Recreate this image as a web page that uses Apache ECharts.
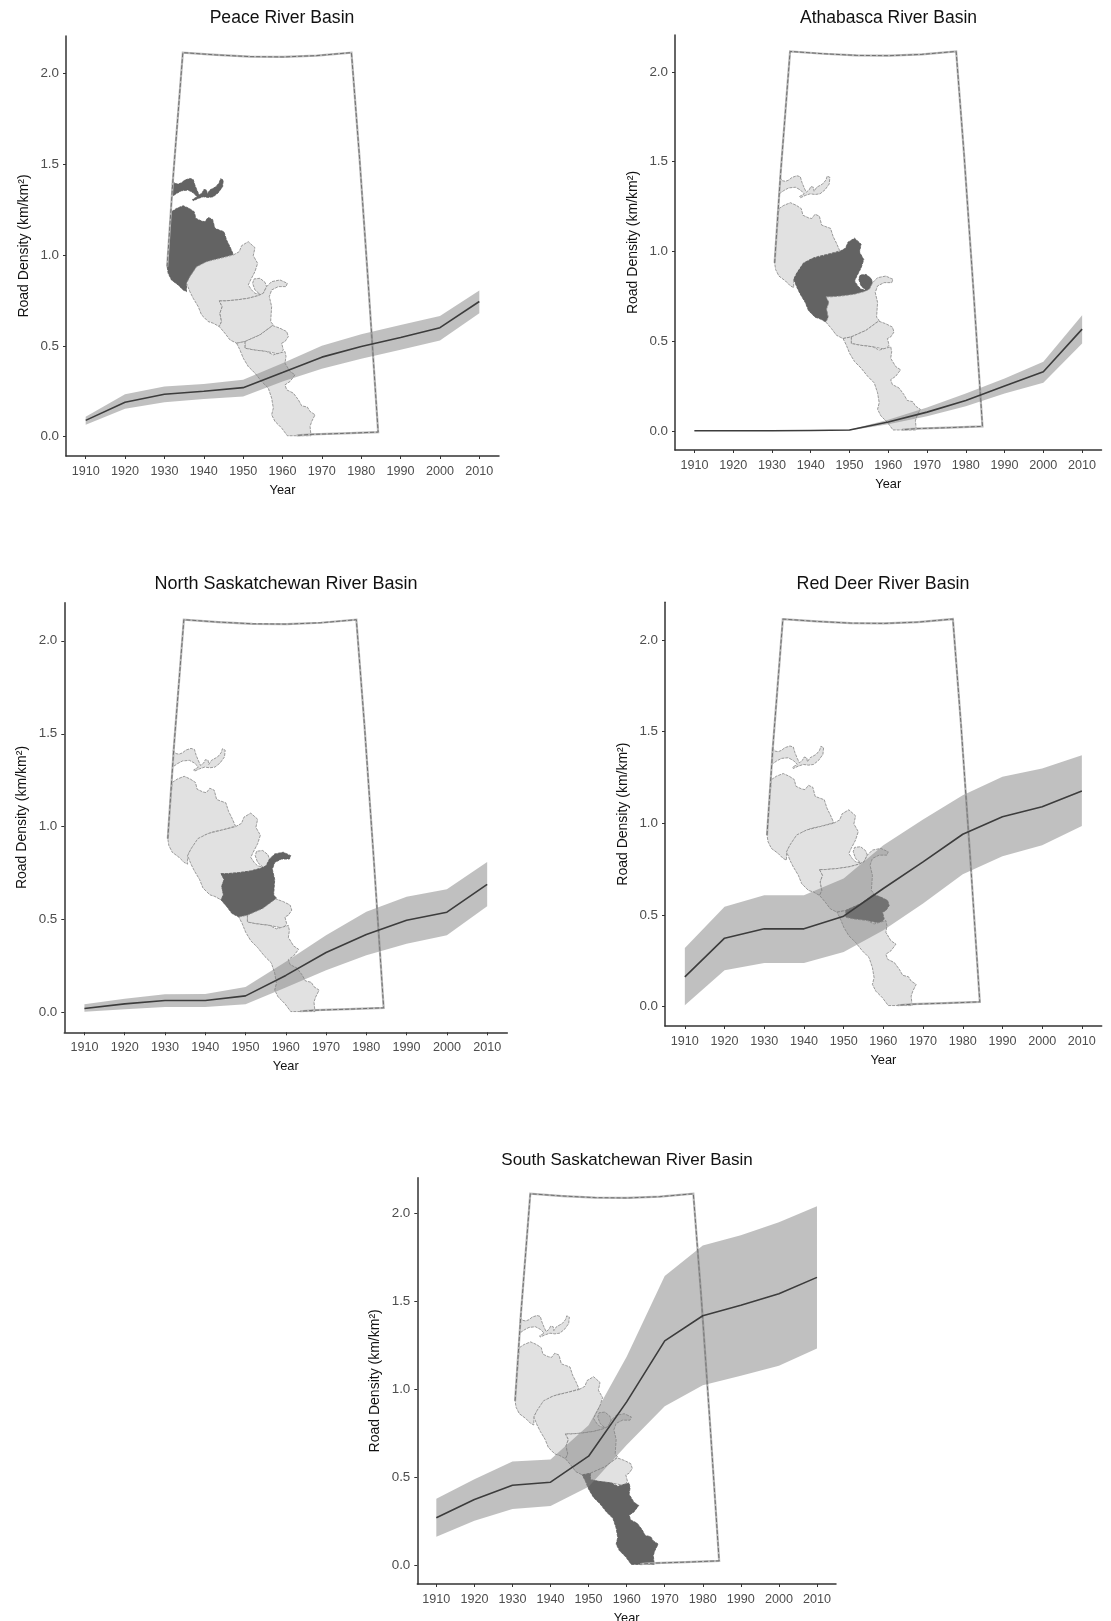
<!DOCTYPE html>
<html>
<head>
<meta charset="utf-8">
<style>html,body{margin:0;padding:0;background:#fff}#c{width:1111px;height:1621px}</style>
<script src="https://cdn.jsdelivr.net/npm/echarts@6/dist/echarts.min.js"></script>
</head>
<body>
<div id="c"></div>
<script>
var years = [1910,1920,1930,1940,1950,1960,1970,1980,1990,2000,2010];
var yTicks = [0,0.5,1,1.5,2];

var peaceMean = [.09,.19,.234,.25,.27,.353,.438,.496,.546,.60,.744];
var peaceHigh = [.11,.234,.277,.29,.313,.405,.50,.564,.615,.665,.804];
var peaceLow  = [.066,.154,.19,.207,.222,.304,.374,.429,.478,.53,.68];

var athaMean = [.001,.001,.001,.003,.005,.05,.105,.17,.25,.33,.567];
var athaHigh = [.002,.002,.002,.004,.007,.063,.13,.208,.292,.385,.645];
var athaLow  = [0,0,0,.002,.003,.037,.082,.138,.208,.268,.487];

var northMean = [.022,.047,.065,.065,.09,.2,.323,.42,.497,.54,.69];
var northHigh = [.045,.074,.099,.10,.138,.273,.416,.542,.623,.664,.81];
var northLow  = [.005,.018,.03,.03,.045,.135,.228,.309,.371,.416,.572];

var redMean = [.162,.373,.424,.424,.493,.644,.789,.94,1.035,1.09,1.176];
var redHigh = [.32,.544,.607,.607,.698,.88,1.02,1.153,1.253,1.298,1.371];
var redLow  = [.007,.198,.238,.238,.298,.416,.562,.722,.82,.88,.985];

var southMean = [.271,.375,.456,.473,.621,.93,1.277,1.42,1.479,1.545,1.638];
var southHigh = [.379,.49,.591,.602,.797,1.186,1.646,1.82,1.877,1.951,2.042];
var southLow  = [.163,.254,.32,.337,.447,.684,.905,1.025,1.078,1.136,1.233];

// Inset map outlines, in map units (projected to year / density below)
var albertaBorder = [[502,800],[510,680],[520,530],[549,157],[650,164],[750,169],[850,170],[950,166],[1054,157],[1078,470],[1105,860],[1134,1297],[1030,1301],[933,1304],[890,1307]];
var slaveArea = [[518,540],[525,550],[535,552],[545,548],[555,540],[570,535],[580,538],[585,555],[592,572],[598,585],[607,578],[612,568],[620,570],[622,582],[630,570],[648,560],[658,548],[662,536],[670,540],[668,560],[655,578],[640,590],[625,592],[610,590],[595,595],[580,602],[578,598],[592,590],[580,578],[565,570],[545,572],[530,580],[516,590]];
var peaceArea = [[515,635],[530,625],[550,617],[568,625],[583,635],[588,655],[605,663],[615,665],[625,652],[638,658],[645,685],[658,690],[672,695],[680,720],[690,740],[700,763],[685,768],[660,775],[635,780],[610,790],[590,805],[575,825],[565,840],[560,855],[560,875],[550,870],[535,855],[515,840],[505,820],[502,800],[508,720]];
var athabascaArea = [[700,765],[718,755],[725,737],[745,725],[765,743],[760,767],[773,790],[765,815],[752,840],[745,855],[755,870],[765,880],[780,883],[765,870],[758,850],[762,837],[780,835],[795,847],[800,860],[790,880],[775,887],[745,895],[710,900],[675,903],[658,903],[667,920],[660,940],[665,965],[658,980],[640,970],[625,965],[605,945],[595,920],[580,895],[570,875],[560,850],[570,830],[590,800],[620,785],[660,775]];
var northArea = [[658,903],[675,903],[710,900],[745,895],[775,887],[790,880],[800,860],[815,845],[840,840],[862,850],[858,860],[835,860],[815,870],[808,890],[815,920],[812,965],[820,975],[780,1005],[735,1025],[710,1030],[690,1020],[675,1000],[658,980],[665,965],[660,940],[667,920]];
var redDeerArea = [[735,1025],[780,1005],[818,977],[840,985],[860,995],[865,1010],[855,1025],[845,1030],[850,1050],[840,1063],[800,1055],[760,1050],[735,1045]];
var southArea = [[710,1030],[735,1025],[735,1045],[760,1050],[800,1055],[820,1065],[855,1055],[858,1070],[855,1090],[870,1115],[885,1125],[870,1145],[855,1155],[860,1170],[880,1180],[895,1200],[905,1218],[922,1222],[930,1235],[945,1245],[935,1265],[930,1280],[933,1308],[862,1308],[845,1285],[825,1265],[815,1245],[820,1225],[815,1195],[805,1165],[785,1145],[765,1120],[745,1100],[730,1075],[720,1050]];

function projectMap(pts){
  return pts.map(function(p){ return [1910+(p[0]-258)/11.79, (1311-p[1])/546]; });
}
var areas = {slave:slaveArea, peace:peaceArea, athabasca:athabascaArea, north:northArea, red:redDeerArea, south:southArea};

var panels = [
 {title:'Peace River Basin', tx:282, ty:18, fs:17.6, box:[66,36,433,420], mean:peaceMean, high:peaceHigh, low:peaceLow, dark:['slave','peace']},
 {title:'Athabasca River Basin', tx:888.5, ty:18, fs:17.5, box:[675,35,426.5,415], mean:athaMean, high:athaHigh, low:athaLow, dark:['athabasca']},
 {title:'North Saskatchewan River Basin', tx:286, ty:584, fs:18, box:[64.3,602.7,443,429.6], mean:northMean, high:northHigh, low:northLow, dark:['north']},
 {title:'Red Deer River Basin', tx:883, ty:584, fs:17.9, box:[665,602.3,436.7,423.7], mean:redMean, high:redHigh, low:redLow, dark:['red']},
 {title:'South Saskatchewan River Basin', tx:627, ty:1160, fs:17, box:[417.3,1177.7,418.7,406.3], mean:southMean, high:southHigh, low:southLow, dark:['south']}
];

var AXIS='#333333', TICK='#4d4d4d', FONT='"Liberation Sans", Arial, sans-serif';
var option = {animation:false, backgroundColor:'#fff', title:[], grid:[], xAxis:[], yAxis:[], series:[]};

function polygonSeries(i, name, pts, fill, stroke){
  var data = projectMap(pts);
  option.series.push({type:'custom', name:name, xAxisIndex:i, yAxisIndex:i, silent:true, clip:false, z:2,
    data:data,
    renderItem:function(params, api){
      if(params.dataIndex!==0) return null;
      return {type:'polygon', shape:{points:data.map(function(d){return api.coord(d);})},
        style:{fill:fill, stroke:stroke, lineWidth:0.8, lineDash:[3,1]}};
    }});
}

panels.forEach(function(p,i){
  option.title.push({text:p.title, left:p.tx, top:p.ty, padding:0, textAlign:'center', textVerticalAlign:'middle',
    textStyle:{fontFamily:FONT, fontSize:p.fs, fontWeight:'normal', color:'#111'}});
  option.grid.push({left:p.box[0], top:p.box[1], width:p.box[2], height:p.box[3], containLabel:false, outerBoundsMode:'none'});
  option.xAxis.push({type:'value', gridIndex:i, min:1905, max:2015, name:'Year', nameLocation:'middle', nameGap:28,
    nameTextStyle:{fontFamily:FONT, fontSize:12.8, color:'#111'},
    axisLine:{show:true, onZero:false, lineStyle:{color:AXIS, width:1.5}},
    axisTick:{show:true, length:3, customValues:years, lineStyle:{color:AXIS, width:1}},
    axisLabel:{fontFamily:FONT, fontSize:12.6, color:TICK, margin:9, customValues:years, formatter:function(v){return String(v);}},
    splitLine:{show:false}});
  option.yAxis.push({type:'value', gridIndex:i, min:-0.106, max:2.205, name:'Road Density (km/km\u00B2)', nameLocation:'middle', nameGap:35,
    nameTextStyle:{fontFamily:FONT, fontSize:14, color:'#111'},
    axisLine:{show:true, onZero:false, lineStyle:{color:AXIS, width:1.5}},
    axisTick:{show:true, length:3, customValues:yTicks, lineStyle:{color:AXIS, width:1}},
    axisLabel:{fontFamily:FONT, fontSize:13.4, color:TICK, margin:7, customValues:yTicks, formatter:function(v){return v.toFixed(1);}},
    splitLine:{show:false}});

  Object.keys(areas).forEach(function(k){
    var on = p.dark.indexOf(k)>=0;
    polygonSeries(i, k, areas[k], on?'#636363':'#e1e1e1', on?'#5a5a5a':'#858585');
  });

  var border = projectMap(albertaBorder);
  option.series.push({type:'custom', name:'Alberta', xAxisIndex:i, yAxisIndex:i, silent:true, clip:false, z:3,
    data:border,
    renderItem:function(params, api){
      if(params.dataIndex!==0) return null;
      var pts = border.map(function(d){return api.coord(d);});
      return {type:'group', children:[
        {type:'polyline', shape:{points:pts}, style:{fill:null, stroke:'#b8b8b8', lineWidth:2.2}},
        {type:'polyline', shape:{points:pts}, style:{fill:null, stroke:'#707070', lineWidth:1, lineDash:[4,2]}}
      ]};
    }});

  var band = years.map(function(y,k){return [y,p.low[k],p.high[k]];});
  option.series.push({type:'custom', name:p.title+' range', xAxisIndex:i, yAxisIndex:i, silent:true, z:4,
    encode:{x:0,y:[1,2]}, data:band,
    renderItem:function(params, api){
      if(params.dataIndex!==0) return null;
      var up = band.map(function(d){return api.coord([d[0],d[2]]);});
      var dn = band.map(function(d){return api.coord([d[0],d[1]]);}).reverse();
      return {type:'polygon', shape:{points:up.concat(dn)}, style:{fill:'rgba(130,130,130,0.5)'}};
    }});

  option.series.push({type:'line', name:p.title, xAxisIndex:i, yAxisIndex:i, silent:true, z:5, symbol:'none',
    data:years.map(function(y,k){return [y,p.mean[k]];}),
    lineStyle:{color:'#3c3c3c', width:1.6}});
});

var chart = echarts.init(document.getElementById('c'), null, {renderer:'canvas'});
chart.setOption(option);
</script>
</body>
</html>
